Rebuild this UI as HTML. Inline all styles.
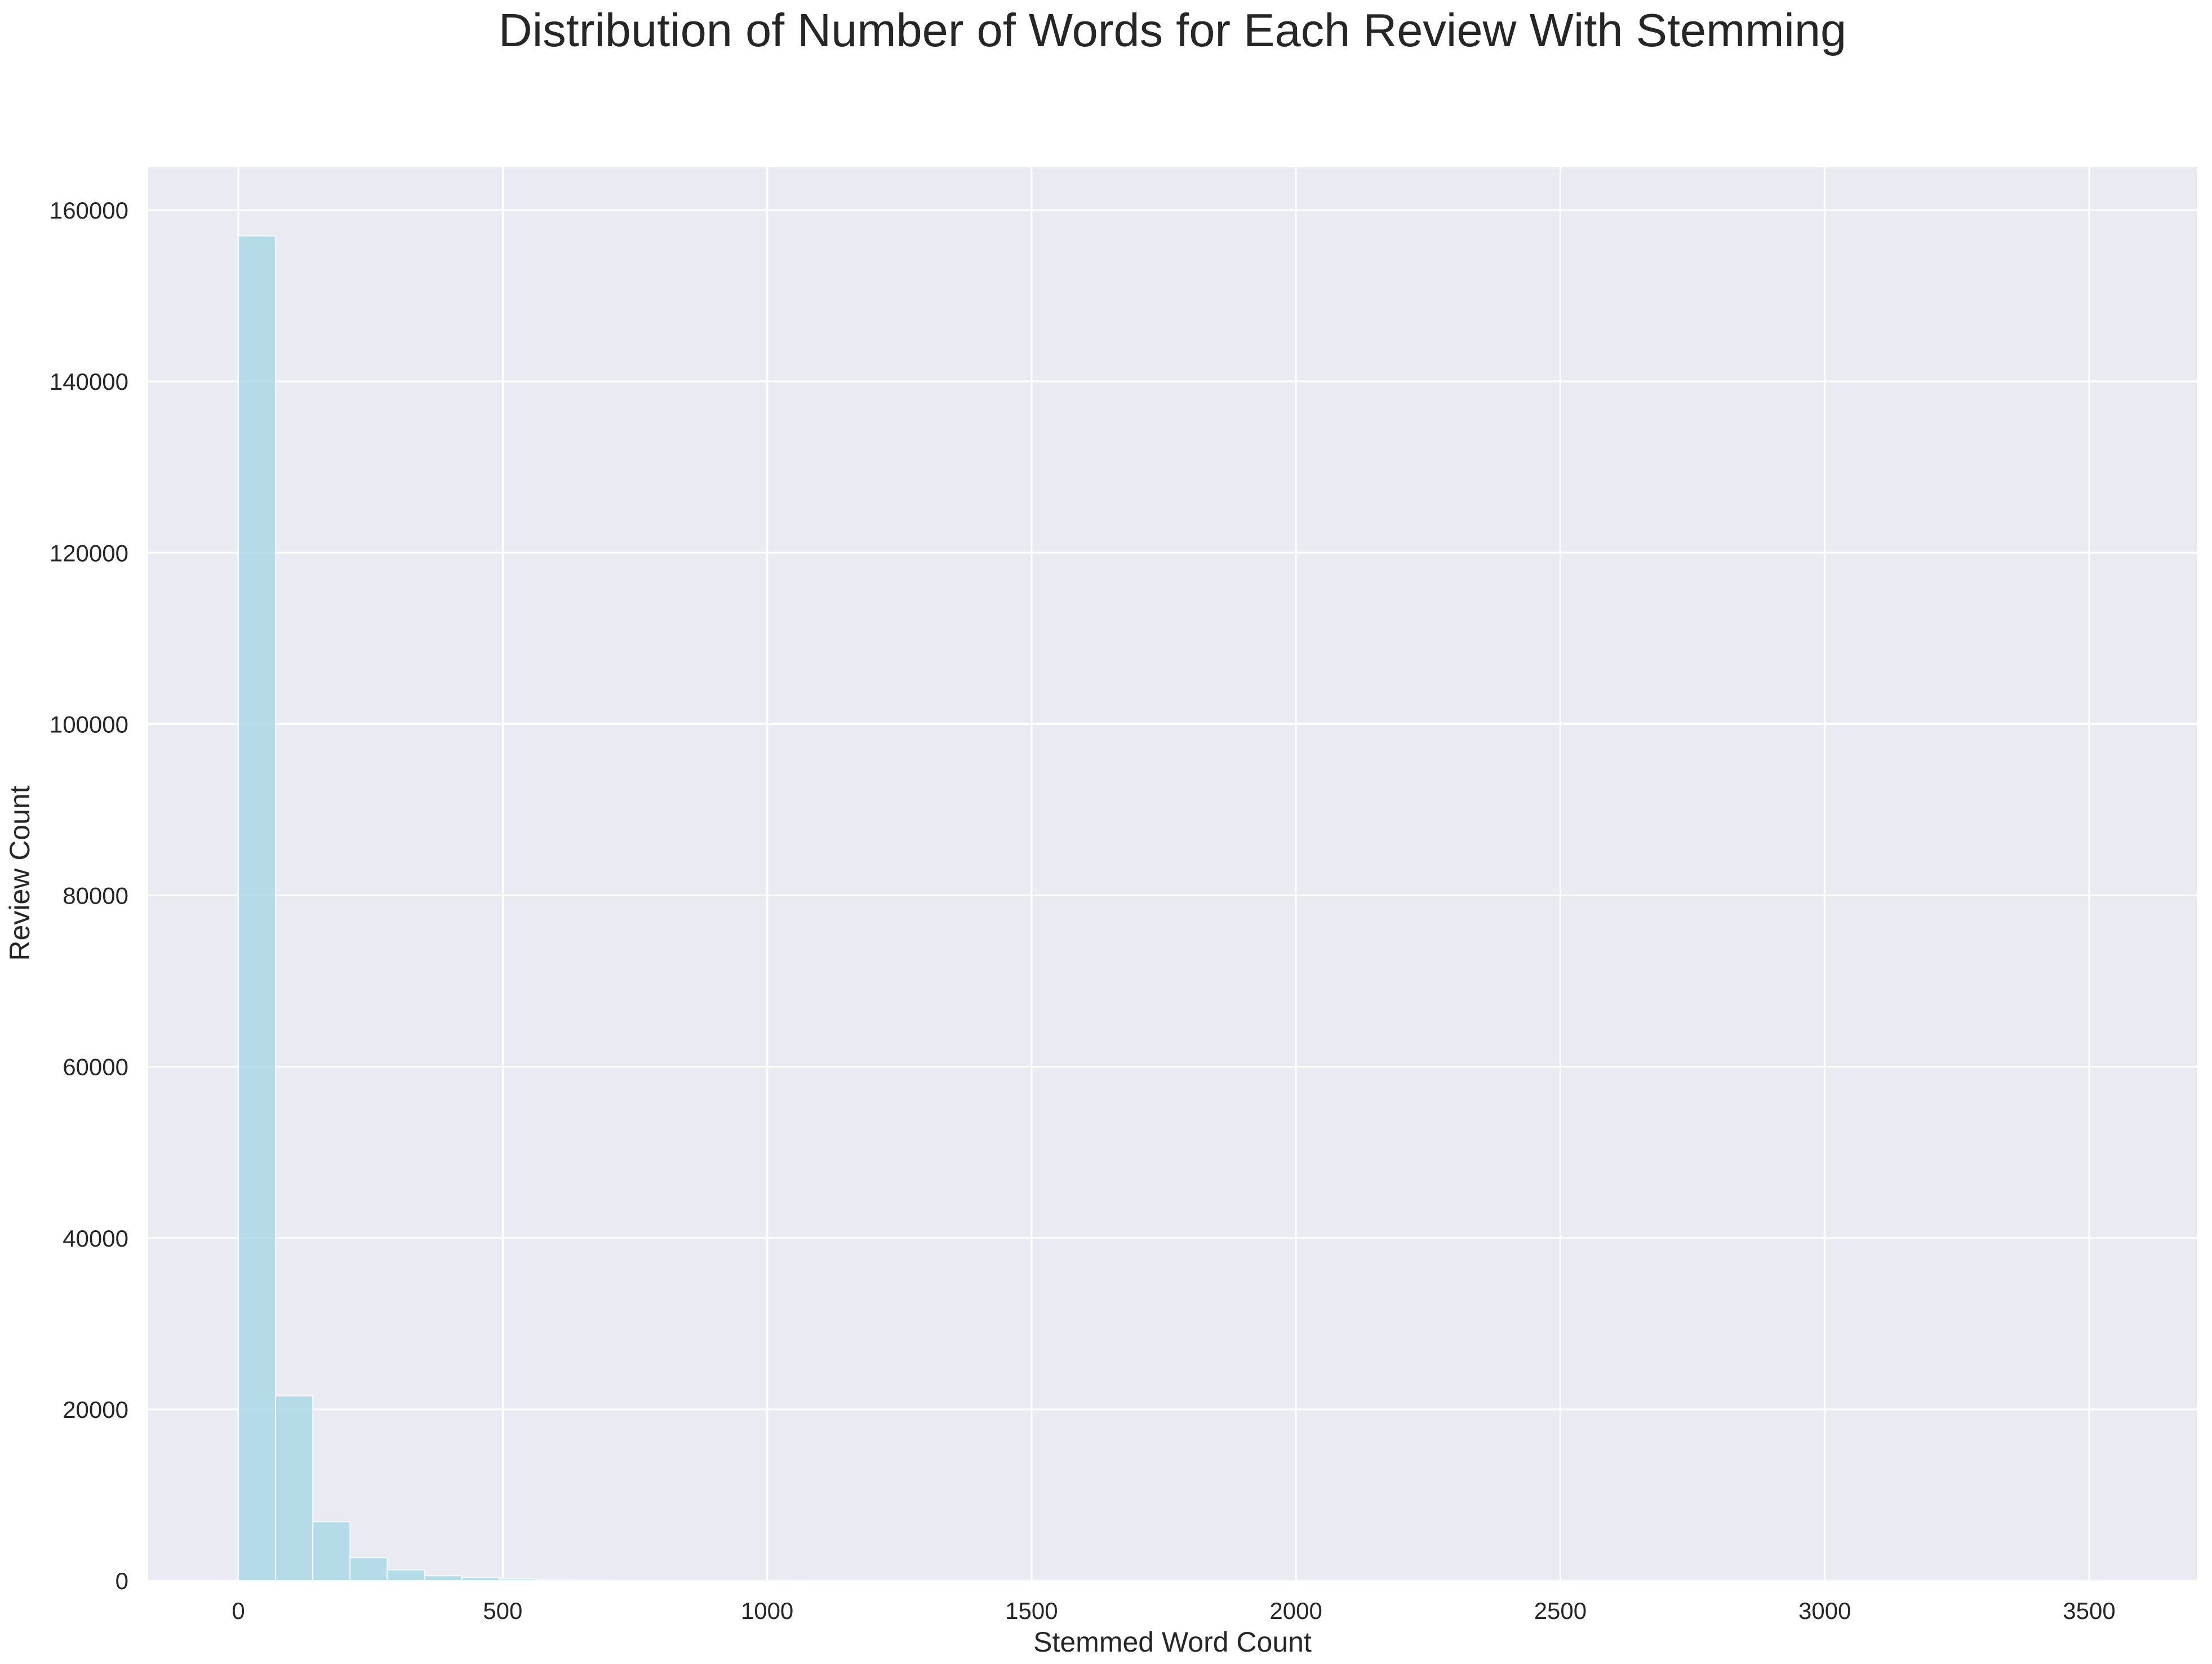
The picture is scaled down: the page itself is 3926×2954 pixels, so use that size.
<!DOCTYPE html>
<html><head><meta charset="utf-8"><style>
html,body{margin:0;padding:0;background:#fff;}
svg text{font-family:"Liberation Sans","DejaVu Sans",sans-serif;fill:#262626;}
</style></head><body>
<svg id="chart" width="3926" height="2949" xmlns="http://www.w3.org/2000/svg">
<rect x="263" y="297" width="3636" height="2509" fill="#eaeaf2"/>
<g id="grid"></g>
<g id="bars"></g>
<g id="ticks"></g>
<text x="2081" y="82" font-size="83" text-anchor="middle">Distribution of Number of Words for Each Review With Stemming</text>
<text x="2081" y="2932" font-size="50" text-anchor="middle">Stemmed Word Count</text>
<text x="0" y="0" font-size="50" text-anchor="middle" transform="translate(52,1550) rotate(-90)">Review Count</text>
</svg>
<script>
const binCounts=[157000,21570,6880,2680,1260,570,360,200,110,60,35,22,15,10,7,5,4,3,2,2,2,1,1,1,1,1,1,1,1,1,1,1,1,1,1,1,1,1,1,1,1,1,1,1,1,1,1,1,1,1];
const binStart=[0];
const binWidth=[70.4];
const xTicks=[0,500,1000,1500,2000,2500,3000,3500];
const yTicks=[0,20000,40000,60000,80000,100000,120000,140000,160000];
const NS="http://www.w3.org/2000/svg";
const L=263,R=3899,T=297,B=2806;
const xMin=-170.5,xMax=3703.5,yMax=165000;
function xs(v){return L+(v-xMin)/(xMax-xMin)*(R-L);}
function ys(v){return B-v/yMax*(B-T);}
const grid=document.getElementById('grid'),bars=document.getElementById('bars'),ticks=document.getElementById('ticks');
xTicks.forEach(v=>{
 const l=document.createElementNS(NS,'line');
 
 
 l.setAttribute('x1',xs(v));l.setAttribute('x2',xs(v));l.setAttribute('y1',T);l.setAttribute('y2',B);
 l.setAttribute('stroke','#fff');l.setAttribute('stroke-width','3');grid.appendChild(l);
 const t=document.createElementNS(NS,'text');
 
 
 t.setAttribute('x',xs(v));t.setAttribute('y',2874);t.setAttribute('font-size','42');t.setAttribute('text-anchor','middle');
 t.textContent=v;ticks.appendChild(t);
});
yTicks.forEach(v=>{
 const l=document.createElementNS(NS,'line');
 
 
 l.setAttribute('x1',L);l.setAttribute('x2',R);l.setAttribute('y1',ys(v));l.setAttribute('y2',ys(v));
 l.setAttribute('stroke','#fff');l.setAttribute('stroke-width','3');grid.appendChild(l);
 const t=document.createElementNS(NS,'text');
 
 
 t.setAttribute('x',228);t.setAttribute('y',ys(v)+15);t.setAttribute('font-size','42');t.setAttribute('text-anchor','end');
 t.textContent=v;ticks.appendChild(t);
});
binCounts.forEach((c,i)=>{
 const x0=binStart[0]+i*binWidth[0],x1=x0+binWidth[0];
 const r=document.createElementNS(NS,'rect');
 
 
 r.setAttribute('x',xs(x0));r.setAttribute('width',xs(x1)-xs(x0));
 r.setAttribute('y',ys(c));r.setAttribute('height',ys(0)-ys(c));
 r.setAttribute('fill','#add8e6');r.setAttribute('fill-opacity','0.85');
 r.setAttribute('stroke','#f4fafc');r.setAttribute('stroke-width','2');
 bars.appendChild(r);
});
</script>
</body></html>
